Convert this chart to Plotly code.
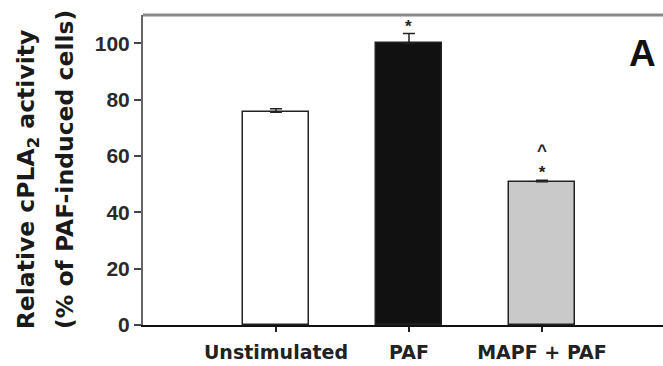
import plotly.graph_objects as go

# Relative cPLA2 activity per treatment group
categories = ["Unstimulated", "PAF", "MAPF + PAF"]
activity = [75.5, 100.1, 50.8]
sem = [1.2, 3.3, 0.6]
significance = ["", "*", "^<br>*"]
y_ticks = [0, 20, 40, 60, 80, 100]

fill_colors = ["#ffffff", "#111111", "#c9c9c9"]
x_pos = list(range(len(categories)))

fig = go.Figure()
fig.add_trace(go.Bar(
    x=x_pos,
    y=activity,
    width=0.5,
    marker=dict(color=fill_colors, line=dict(color="#222222", width=1.5)),
    error_y=dict(type="data", symmetric=False, array=sem,
                 arrayminus=[0] * len(sem), color="#222222",
                 thickness=1.5, width=6),
    showlegend=False,
))

annotations = []
for xi, v, e, s in zip(x_pos, activity, sem, significance):
    if s:
        annotations.append(dict(
            x=xi, y=v + e, xref="x", yref="y", text=f"<b>{s}</b>",
            showarrow=False, yanchor="bottom", yshift=-4,
            font=dict(family="Liberation Sans, Arial", size=17, color="#222222"),
        ))

# Panel letter
annotations.append(dict(
    x=(642 - 143) / 520, xref="x domain", y=96.5, yref="y",
    text="<b>A</b>", showarrow=False, xanchor="center", yanchor="middle",
    font=dict(family="Liberation Sans, Arial", size=37, color="#111111"),
))

# Two-line rotated y-axis title
title_font = dict(family="DejaVu Sans", size=23.5, color="#1a1a1a")
annotations.append(dict(
    x=0, xref="paper", xshift=-116, y=0.47, yref="paper",
    text="<b>Relative cPLA<sub>2</sub> activity</b>", textangle=-90,
    showarrow=False, xanchor="center", yanchor="middle", font=title_font,
))
annotations.append(dict(
    x=0, xref="paper", xshift=-78, y=0.5, yref="paper",
    text="<b>(% of PAF-induced cells)</b>", textangle=-90,
    showarrow=False, xanchor="center", yanchor="middle", font=title_font,
))

fig.update_layout(
    width=663, height=366,
    margin=dict(l=143, r=0, t=15, b=41),
    paper_bgcolor="white", plot_bgcolor="white",
    annotations=annotations,
    bargap=0,
    shapes=[dict(type="line", xref="paper", yref="paper", x0=0, x1=1,
                 y0=1, y1=1, line=dict(color="#8a8a8a", width=3))],
)
fig.update_xaxes(
    range=[-1, 2.91],
    tickmode="array", tickvals=x_pos,
    ticktext=[f"<b>{c}</b>" for c in categories],
    ticks="outside", ticklen=5, tickwidth=1.5, tickcolor="#222222",
    ticklabelstandoff=4,
    showline=True, linecolor="#111111", linewidth=2,
    showgrid=False, zeroline=False,
    tickfont=dict(family="DejaVu Sans", size=19, color="#222222"),
)
fig.update_yaxes(
    range=[0, 110],
    tickmode="array", tickvals=y_ticks,
    ticktext=[f"<b>{t}</b>" for t in y_ticks],
    ticks="outside", ticklen=7, tickwidth=1.5, tickcolor="#444444",
    showline=True, linecolor="#666666", linewidth=2,
    showgrid=False, zeroline=False,
    tickfont=dict(family="Liberation Sans, Arial", size=21, color="#2a2a2a"),
)

fig.write_html("out.html")
